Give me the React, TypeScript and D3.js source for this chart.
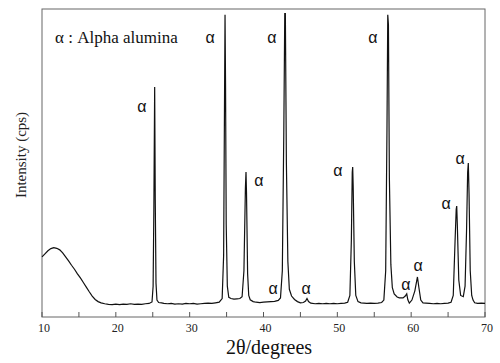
import * as d3 from "d3";
import React from "react";

// XRD pattern: [2θ (degrees), intensity (arb. units, 0-1000)]
const pattern: [number, number][] = [
  [10.0, 195], [10.4, 205], [10.8, 215], [11.2, 222], [11.6, 225], [12.0, 223],
  [12.4, 218], [12.8, 208], [13.2, 195], [13.6, 182], [14.0, 168], [14.4, 155],
  [14.8, 140], [15.2, 127], [15.6, 112], [16.0, 97], [16.4, 82], [16.8, 68],
  [17.2, 57], [17.6, 50], [18.0, 46], [18.5, 43], [19.0, 41], [19.5, 40],
  [20.0, 42], [20.5, 40], [21.0, 42], [21.5, 41], [22.0, 43], [22.5, 41],
  [23.0, 42], [23.5, 41], [24.0, 43], [24.5, 44], [24.9, 49],
  [25.05, 100], [25.15, 350], [25.26, 747], [25.34, 380], [25.44, 110], [25.57, 55],
  [25.8, 47], [26.2, 46], [26.5, 44], [27.0, 43], [27.5, 44], [28.0, 42],
  [28.5, 43], [29.0, 42], [29.5, 44], [30.0, 43], [30.5, 44], [31.0, 42],
  [31.5, 43], [32.0, 44], [32.5, 45], [33.0, 44], [33.5, 46], [34.0, 48],
  [34.4, 60], [34.6, 200], [34.72, 700], [34.79, 981], [34.86, 750], [34.95, 300],
  [35.1, 100], [35.3, 64], [35.6, 60], [36.0, 58], [36.4, 59], [36.8, 60],
  [37.1, 66], [37.35, 150], [37.55, 420], [37.63, 471], [37.7, 400], [37.85, 140],
  [38.0, 70], [38.2, 56], [38.6, 50], [39.0, 48], [39.5, 47], [40.0, 48],
  [40.5, 49], [41.0, 50], [41.5, 51], [42.0, 54], [42.3, 62],
  [42.55, 150], [42.75, 600], [42.88, 985], [42.96, 985], [43.1, 500], [43.3, 180],
  [43.5, 90], [43.8, 68], [44.2, 57], [44.6, 50], [45.0, 46], [45.4, 47],
  [45.7, 52], [45.89, 60], [46.1, 50], [46.4, 45], [47.0, 43], [47.5, 44],
  [48.0, 43], [48.5, 44], [49.0, 43], [49.5, 44], [50.0, 43], [50.5, 44],
  [51.0, 45], [51.4, 48], [51.7, 70], [51.9, 250], [52.02, 470], [52.08, 487],
  [52.15, 420], [52.3, 180], [52.5, 70], [52.8, 50], [53.2, 46], [53.6, 45],
  [54.0, 44], [54.5, 45], [55.0, 44], [55.5, 45], [56.0, 47], [56.3, 55],
  [56.55, 150], [56.72, 600], [56.83, 981], [56.92, 950], [57.05, 450], [57.25, 170],
  [57.45, 95], [57.7, 75], [58.1, 65], [58.4, 62], [58.9, 62], [59.2, 68],
  [59.4, 75], [59.55, 56], [59.75, 45], [60.1, 55], [60.5, 85], [60.85, 130],
  [61.05, 95], [61.3, 55], [61.6, 46], [62.0, 45], [62.5, 44], [63.0, 43],
  [63.5, 44], [64.0, 43], [64.5, 44], [65.0, 45], [65.4, 48], [65.7, 70],
  [65.95, 250], [66.1, 350], [66.17, 360], [66.25, 300], [66.45, 120], [66.7, 70],
  [67.06, 66], [67.3, 100], [67.5, 280], [67.65, 470], [67.74, 500], [67.84, 400],
  [68.0, 150], [68.2, 70], [68.38, 55], [68.6, 46], [69.0, 44], [69.5, 45],
  [70.0, 44],
];

// peak markers: [2θ, intensity] where each "α" sits
const alphaLabels: [number, number][] = [
  [23.54, 682], [32.76, 909], [39.39, 442], [41.15, 909], [41.29, 94],
  [45.76, 94], [50.09, 477], [54.83, 909], [59.3, 104], [60.93, 166],
  [64.72, 370], [66.62, 513],
];

const majorTicks = [10, 20, 30, 40, 50, 60, 70];
const allTicks = [10, 15, 20, 25, 30, 35, 40, 45, 50, 55, 60, 65, 70];

const W = 500;
const H = 363;
const margin = { top: 9, right: 15, bottom: 46, left: 42 };

const App: React.FC = () => {
  const x = d3.scaleLinear().domain([10, 70]).range([margin.left, W - margin.right]);
  const y = d3.scaleLinear().domain([0, 1000]).range([H - margin.bottom, margin.top]);

  const line = d3
    .line<[number, number]>()
    .x((d) => x(d[0]))
    .y((d) => y(d[1]));

  const serif = "'Liberation Serif', 'Times New Roman', serif";
  const sans = "'Liberation Sans', Arial, sans-serif";
  const x0 = margin.left;
  const x1 = W - margin.right;
  const y0 = H - margin.bottom;
  const y1 = margin.top;

  return (
    <svg
      width={W}
      height={H}
      style={{ position: "absolute", left: 0, top: 0, background: "#fff" }}
    >
      {/* frame */}
      <rect x={x0} y={y1} width={x1 - x0} height={y0 - y1} fill="none" stroke="#666" strokeWidth={1} />

      {/* inward ticks on the 2θ axis */}
      {allTicks.map((t) => (
        <line key={t} x1={x(t)} x2={x(t)} y1={y0} y2={y0 - 5} stroke="#555" strokeWidth={1} />
      ))}
      {majorTicks.map((t) => (
        <text key={t} x={x(t) + 2} y={332} textAnchor="middle" fontFamily={serif} fontSize={12} fill="#222">
          {t}
        </text>
      ))}

      {/* pattern */}
      <path d={line(pattern) ?? ""} fill="none" stroke="#111" strokeWidth={1.2} />

      {/* α markers */}
      {alphaLabels.map((d, i) => (
        <text
          key={i}
          x={x(d[0])}
          y={y(d[1])}
          textAnchor="middle"
          dominantBaseline="central"
          fontFamily={sans}
          fontSize={16}
          fill="#111"
        >
          α
        </text>
      ))}

      {/* legend */}
      <text x={55} y={43} fontFamily={serif} fontSize={17} fill="#111">
        α : Alpha alumina
      </text>

      {/* axis titles */}
      <text x={269} y={354} textAnchor="middle" fontFamily={serif} fontSize={20} fill="#111">
        2θ/degrees
      </text>
      <text
        transform={`translate(26,155) rotate(-90)`}
        textAnchor="middle"
        fontFamily={serif}
        fontSize={15}
        fill="#222"
      >
        Intensity (cps)
      </text>
    </svg>
  );
};

export default App;
